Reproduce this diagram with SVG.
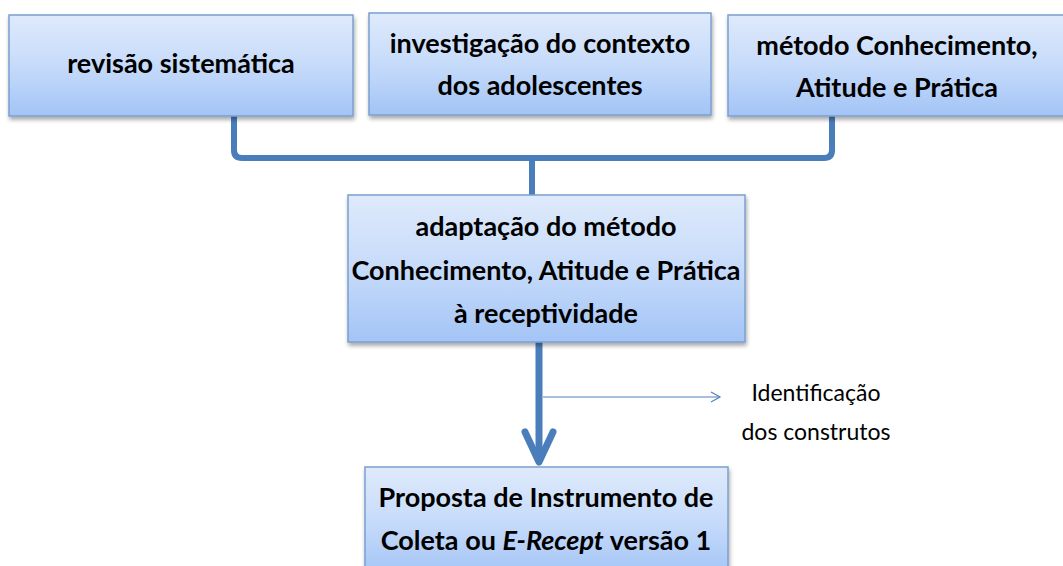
<svg xmlns="http://www.w3.org/2000/svg" width="1063" height="566" viewBox="0 0 1063 566">
<defs>
<linearGradient id="g" x1="0" y1="0" x2="0" y2="1">
<stop offset="0" stop-color="#dfeafb"/>
<stop offset="0.5" stop-color="#c6dbfa"/>
<stop offset="1" stop-color="#a3c4f6"/>
</linearGradient>
<filter id="sh" x="-10%" y="-10%" width="120%" height="130%">
<feGaussianBlur in="SourceAlpha" stdDeviation="2"/>
<feOffset dx="1" dy="3" result="b"/>
<feComponentTransfer><feFuncA type="linear" slope="0.35"/></feComponentTransfer>
<feMerge><feMergeNode/><feMergeNode in="SourceGraphic"/></feMerge>
</filter>
<marker id="open" markerWidth="12" markerHeight="12" refX="10" refY="6" orient="auto" markerUnits="userSpaceOnUse">
<path d="M1,1 L10,6 L1,11" fill="none" stroke="#4f81bd" stroke-width="1.2"/>
</marker>
</defs>
<style>
.box{fill:url(#g);stroke:#7aa0cf;stroke-width:1.5;filter:url(#sh)}
.t{font-family:Lato,"Open Sans",sans-serif;font-weight:bold;font-size:27px;fill:#000;text-anchor:middle}
.s{font-family:Lato,"Open Sans",sans-serif;font-size:23px;fill:#000;text-anchor:middle}
.c{fill:none;stroke:#4a7ebb;stroke-linecap:round;stroke-linejoin:round}
</style>
<rect width="1063" height="566" fill="#fff"/>
<g id="connectors">
<path class="c" stroke-width="6" d="M234,116 V150 Q234,158 242,158 H824 Q832,158 832,150 V116"/>
<path class="c" stroke-width="6" d="M532,195 V158"/>
<path class="c" stroke-width="7" d="M539,343 V458"/>
<path class="c" stroke-width="7" d="M525,432 L539,462 L553,432"/>
<path fill="none" stroke="#4f81bd" stroke-width="1.2" d="M543,397 H720" marker-end="url(#open)"/>
</g>
<g id="n1"><rect class="box" x="9" y="15" width="344" height="101"/><text class="t" x="181" y="73">revisão sistemática</text></g>
<g id="n2"><rect class="box" x="369" y="13" width="342" height="102"/><text class="t" x="540" y="53">investigação do contexto</text><text class="t" x="540" y="95">dos adolescentes</text></g>
<g id="n3"><rect class="box" x="728" y="15" width="340" height="101"/><text class="t" x="897" y="55">método Conhecimento,</text><text class="t" x="897" y="97">Atitude e Prática</text></g>
<g id="n4"><rect class="box" x="348" y="195" width="397" height="147"/><text class="t" x="546" y="236">adaptação do método</text><text class="t" x="546" y="280">Conhecimento, Atitude e Prática</text><text class="t" x="546" y="323">à receptividade</text></g>
<g id="n5"><rect class="box" x="365" y="467" width="363" height="110"/><text class="t" x="546" y="507">Proposta de Instrumento de</text><text class="t" x="546" y="550">Coleta ou <tspan font-style="italic">E-Recept</tspan> versão 1</text></g>
<g id="label"><text class="s" x="816" y="401">Identificação</text><text class="s" x="816" y="440">dos construtos</text></g>
</svg>
